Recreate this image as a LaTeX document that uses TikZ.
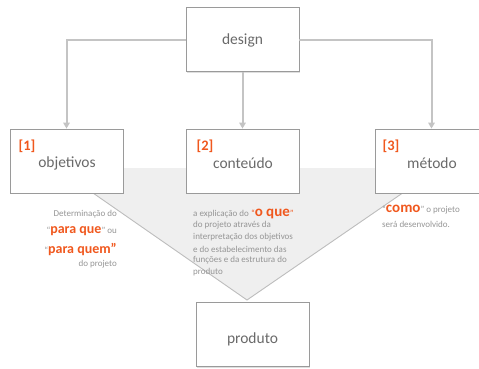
\documentclass[tikz,border=0pt]{standalone}
\usepackage{fontspec}
\setmainfont{Carlito}
\usetikzlibrary{shadows,arrows.meta}
\definecolor{txtgray}{HTML}{6A6A6A}
\definecolor{notegray}{HTML}{959595}
\definecolor{orng}{HTML}{F0581E}
\definecolor{boxline}{HTML}{9A9A9A}
\definecolor{conn}{HTML}{C4C4C4}
\definecolor{trifill}{HTML}{EFEFEF}
\definecolor{triline}{HTML}{BDBDBD}
\tikzset{
  box/.style={draw=boxline, line width=0.8pt, fill=white, minimum width=113pt, minimum height=64pt, inner sep=0pt,
    drop shadow={opacity=0.25, shadow xshift=1pt, shadow yshift=-1.2pt}},
  lbl/.style={text=txtgray, font=\fontsize{15.5}{18}\selectfont, inner sep=0pt},
  num/.style={text=orng, font=\fontsize{14.5}{16}\selectfont\bfseries, inner sep=0pt},
  note/.style={text=notegray, font=\fontsize{9}{10}\selectfont, inner sep=0pt},
  connector/.style={draw=conn, line width=2pt, -{Triangle[length=6pt,width=6.5pt]}},
}
\newcommand{\hl}[2]{{\color{orng}\bfseries\fontsize{#1}{#1}\selectfont #2}}
\begin{document}
\begin{tikzpicture}[x=1pt,y=-1pt]
\useasboundingbox (0,0) rectangle (479,368);
\clip (0,0) rectangle (479,368);
% background triangle
\coordinate (tl) at (57,168);
\coordinate (tr) at (439,168);
\coordinate (tp) at (247,300);
\fill[trifill] (tl) -- (tr) -- (tp) -- cycle;
\draw[triline, line width=0.9pt] (tl) -- (tp) -- (tr);
% boxes
\node[box] (design) at (242.5,39.5) {};
\node[box] (obj) at (66.5,161) {};
\node[box] (cont) at (242.5,161) {};
\node[box] (met) at (431.5,161) {};
\node[box] (prod) at (252.5,334.5) {};
% box labels
\node[lbl] (designtxt) at (242.5,40.5) {design};
\node[lbl] (objtxt) at (67,163.5) {objetivos};
\node[lbl] (conttxt) at (243,163.5) {conteúdo};
\node[lbl] (mettxt) at (432,163.5) {método};
\node[lbl] (prodtxt) at (252.5,339) {produto};
\node[num] (n1) at (27,146) {[1]};
\node[num] (n2) at (205,146) {[2]};
\node[num] (n3) at (391,146) {[3]};
% connectors
\draw[connector] (design.west) -| (obj.north);
\draw[connector] (design.south) -- (cont.north);
\draw[connector] (design.east) -| (met.north);
% notes left
\node[note, anchor=east] (l1) at (117,214) {Determinação do};
\node[note, anchor=east] (l2) at (117,231.5) {“\hl{14}{para que}” ou};
\node[note, anchor=east] (l3) at (117,249) {“\hl{14}{para quem”}};
\node[note, anchor=east] (l4) at (117,264) {do projeto};
% notes middle
\node[note, anchor=west] (m1) at (193,213.5) {a explicação do {\color{orng}“}\hl{15}{o que}{\color{orng}”}};
\node[note, anchor=west] (m2) at (193,225.5) {do projeto através da};
\node[note, anchor=west] (m3) at (193,237) {interpretação dos objetivos};
\node[note, anchor=west] (m4) at (193,249) {e do estabelecimento das};
\node[note, anchor=west] (m5) at (193,260.5) {funções e da estrutura do};
\node[note, anchor=west] (m6) at (193,272) {produto};
% notes right
\node[note, anchor=west] (r1) at (382,210) {“\hl{15}{como}” o projeto};
\node[note, anchor=west] (r2) at (382,224) {será desenvolvido.};
\end{tikzpicture}
\end{document}
